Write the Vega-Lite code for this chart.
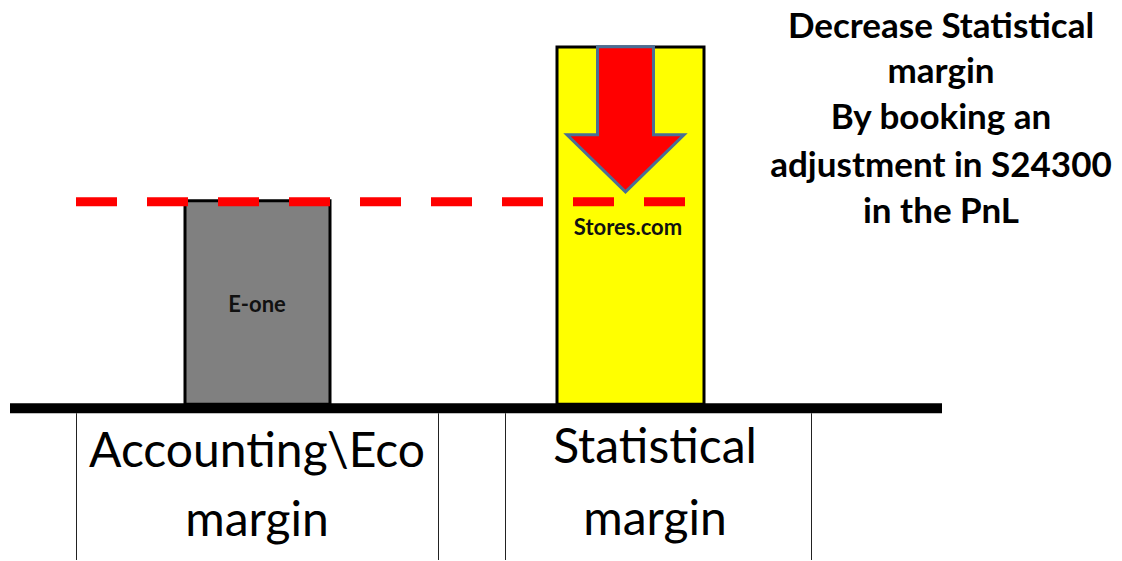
{
  "$schema": "https://vega.github.io/schema/vega-lite/v6.json",
  "width": 1122,
  "height": 561,
  "autosize": {"type": "fit", "contains": "padding"},
  "padding": 0,
  "background": "white",
  "config": {"view": {"stroke": null}},
  "datasets": {
    "bars": [
      {"name": "E-one", "x": 185, "x2": 330, "y": 201, "y2": 405},
      {"name": "Stores.com", "x": 557, "x2": 704, "y": 47, "y2": 405}
    ],
    "baseline": [{"x": 10, "x2": 942, "y": 409}],
    "level": [{"x": 76, "x2": 690, "y": 202}],
    "cols": [
      {"x": 76.5, "y": 414, "y2": 561},
      {"x": 438.5, "y": 414, "y2": 561},
      {"x": 505.5, "y": 414, "y2": 561},
      {"x": 811.5, "y": 414, "y2": 561}
    ],
    "arrow": [
      {"label": "decrease", "x": 625.5, "y": 119.5}
    ],
    "barlabels": [
      {"t": "E-one", "x": 257, "y": 313},
      {"t": "Stores.com", "x": 628, "y": 235}
    ],
    "note": [
      {"t": "Decrease Statistical", "x": 941, "y": 38},
      {"t": "margin", "x": 941, "y": 83},
      {"t": "By booking an", "x": 941, "y": 129},
      {"t": "adjustment in S24300", "x": 941, "y": 177},
      {"t": "in the PnL", "x": 941, "y": 223}
    ],
    "cats": [
      {"t": "Accounting\\Eco", "x": 257, "y": 468},
      {"t": "margin", "x": 257, "y": 537},
      {"t": "Statistical", "x": 655, "y": 464},
      {"t": "margin", "x": 655, "y": 536}
    ]
  },
  "layer": [
    {
      "data": {"name": "bars"},
      "mark": {"type": "rect", "stroke": "black", "strokeWidth": 3},
      "encoding": {
        "x": {"field": "x", "type": "quantitative", "scale": {"domain": [0, 1122], "nice": false, "zero": false}, "axis": null},
        "x2": {"field": "x2"},
        "y": {"field": "y", "type": "quantitative", "scale": {"domain": [0, 561], "nice": false, "zero": false, "reverse": true}, "axis": null},
        "y2": {"field": "y2"},
        "fill": {"field": "name", "type": "nominal", "scale": {"domain": ["E-one", "Stores.com"], "range": ["#808080", "#FFFF00"]}, "legend": null}
      }
    },
    {
      "data": {"name": "cols"},
      "mark": {"type": "rule", "color": "#222222", "strokeWidth": 1},
      "encoding": {
        "x": {"field": "x", "type": "quantitative", "scale": {"domain": [0, 1122], "nice": false, "zero": false}, "axis": null},
        "y": {"field": "y", "type": "quantitative", "scale": {"domain": [0, 561], "nice": false, "zero": false, "reverse": true}, "axis": null},
        "y2": {"field": "y2"}
      }
    },
    {
      "data": {"name": "baseline"},
      "mark": {"type": "rule", "color": "black", "strokeWidth": 10, "strokeCap": "butt"},
      "encoding": {
        "x": {"field": "x", "type": "quantitative", "scale": {"domain": [0, 1122], "nice": false, "zero": false}, "axis": null},
        "x2": {"field": "x2"},
        "y": {"field": "y", "type": "quantitative", "scale": {"domain": [0, 561], "nice": false, "zero": false, "reverse": true}, "axis": null}
      }
    },
    {
      "data": {"name": "level"},
      "mark": {"type": "rule", "color": "#FF0000", "strokeWidth": 9, "strokeCap": "butt", "strokeDash": [41, 30]},
      "encoding": {
        "x": {"field": "x", "type": "quantitative", "scale": {"domain": [0, 1122], "nice": false, "zero": false}, "axis": null},
        "x2": {"field": "x2"},
        "y": {"field": "y", "type": "quantitative", "scale": {"domain": [0, 561], "nice": false, "zero": false, "reverse": true}, "axis": null}
      }
    },
    {
      "data": {"name": "arrow"},
      "mark": {"type": "point", "shape": "M-0.386,-1L0.386,-1L0.386,0.214L0.807,0.214L0,1L-0.807,0.214L-0.386,0.214Z", "size": 21025, "filled": true, "fill": "#FF0000", "opacity": 1, "fillOpacity": 1, "stroke": "#4A6E96", "strokeWidth": 3, "strokeOpacity": 1, "strokeJoin": "miter"},
      "encoding": {
        "x": {"field": "x", "type": "quantitative", "scale": {"domain": [0, 1122], "nice": false, "zero": false}, "axis": null},
        "y": {"field": "y", "type": "quantitative", "scale": {"domain": [0, 561], "nice": false, "zero": false, "reverse": true}, "axis": null}
      }
    },
    {
      "data": {"name": "barlabels"},
      "mark": {"type": "text", "font": "Lato", "fontWeight": "bold", "fontSize": 22, "align": "center", "baseline": "alphabetic", "color": "#111111"},
      "encoding": {
        "x": {"field": "x", "type": "quantitative", "scale": {"domain": [0, 1122], "nice": false, "zero": false}, "axis": null},
        "y": {"field": "y", "type": "quantitative", "scale": {"domain": [0, 561], "nice": false, "zero": false, "reverse": true}, "axis": null},
        "text": {"field": "t"}
      }
    },
    {
      "data": {"name": "note"},
      "mark": {"type": "text", "font": "Lato", "fontWeight": "bold", "fontSize": 35, "align": "center", "baseline": "alphabetic", "color": "black"},
      "encoding": {
        "x": {"field": "x", "type": "quantitative", "scale": {"domain": [0, 1122], "nice": false, "zero": false}, "axis": null},
        "y": {"field": "y", "type": "quantitative", "scale": {"domain": [0, 561], "nice": false, "zero": false, "reverse": true}, "axis": null},
        "text": {"field": "t"}
      }
    },
    {
      "data": {"name": "cats"},
      "mark": {"type": "text", "font": "Lato", "fontSize": 48, "align": "center", "baseline": "alphabetic", "color": "black"},
      "encoding": {
        "x": {"field": "x", "type": "quantitative", "scale": {"domain": [0, 1122], "nice": false, "zero": false}, "axis": null},
        "y": {"field": "y", "type": "quantitative", "scale": {"domain": [0, 561], "nice": false, "zero": false, "reverse": true}, "axis": null},
        "text": {"field": "t"}
      }
    }
  ]
}
